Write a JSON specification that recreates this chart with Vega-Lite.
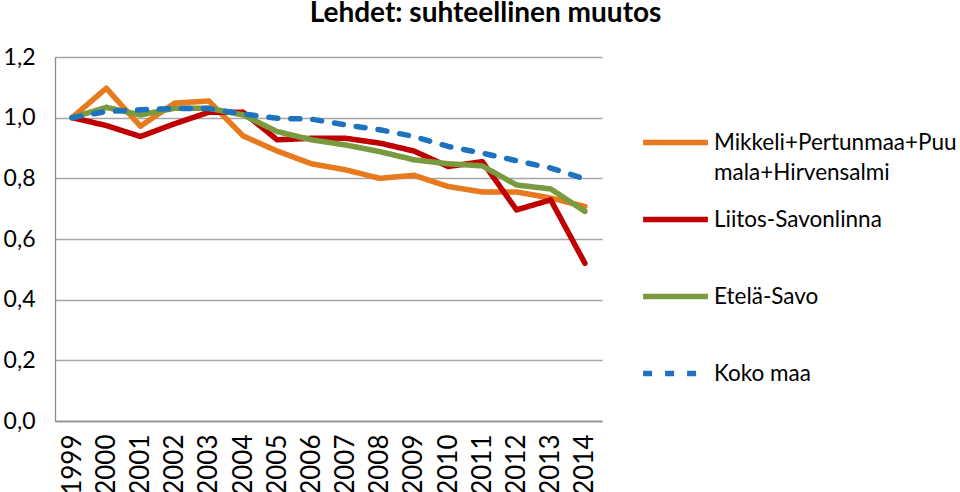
{
  "$schema": "https://vega.github.io/schema/vega-lite/v6.json",
  "width": 547,
  "height": 364,
  "padding": {"left": 3, "top": 0, "right": 0, "bottom": 0},
  "title": {"text": "Lehdet: suhteellinen muutos", "font": "Lato", "fontSize": 28, "fontWeight": "bold", "color": "#000000", "anchor": "middle", "dx": 157, "offset": 18},
  "config": {"view": {"stroke": null}, "font": "Lato", "title": {"fontSize": 28}},
  "data": {"values": [
    {"vuosi": "1999", "sarja": "Mikkeli+Pertunmaa+Puumala+Hirvensalmi", "arvo": 1.0},
    {"vuosi": "2000", "sarja": "Mikkeli+Pertunmaa+Puumala+Hirvensalmi", "arvo": 1.097},
    {"vuosi": "2001", "sarja": "Mikkeli+Pertunmaa+Puumala+Hirvensalmi", "arvo": 0.972},
    {"vuosi": "2002", "sarja": "Mikkeli+Pertunmaa+Puumala+Hirvensalmi", "arvo": 1.048},
    {"vuosi": "2003", "sarja": "Mikkeli+Pertunmaa+Puumala+Hirvensalmi", "arvo": 1.055},
    {"vuosi": "2004", "sarja": "Mikkeli+Pertunmaa+Puumala+Hirvensalmi", "arvo": 0.94},
    {"vuosi": "2005", "sarja": "Mikkeli+Pertunmaa+Puumala+Hirvensalmi", "arvo": 0.89},
    {"vuosi": "2006", "sarja": "Mikkeli+Pertunmaa+Puumala+Hirvensalmi", "arvo": 0.848},
    {"vuosi": "2007", "sarja": "Mikkeli+Pertunmaa+Puumala+Hirvensalmi", "arvo": 0.828},
    {"vuosi": "2008", "sarja": "Mikkeli+Pertunmaa+Puumala+Hirvensalmi", "arvo": 0.80},
    {"vuosi": "2009", "sarja": "Mikkeli+Pertunmaa+Puumala+Hirvensalmi", "arvo": 0.81},
    {"vuosi": "2010", "sarja": "Mikkeli+Pertunmaa+Puumala+Hirvensalmi", "arvo": 0.773},
    {"vuosi": "2011", "sarja": "Mikkeli+Pertunmaa+Puumala+Hirvensalmi", "arvo": 0.755},
    {"vuosi": "2012", "sarja": "Mikkeli+Pertunmaa+Puumala+Hirvensalmi", "arvo": 0.755},
    {"vuosi": "2013", "sarja": "Mikkeli+Pertunmaa+Puumala+Hirvensalmi", "arvo": 0.735},
    {"vuosi": "2014", "sarja": "Mikkeli+Pertunmaa+Puumala+Hirvensalmi", "arvo": 0.707},
    {"vuosi": "1999", "sarja": "Liitos-Savonlinna", "arvo": 1.0},
    {"vuosi": "2000", "sarja": "Liitos-Savonlinna", "arvo": 0.974},
    {"vuosi": "2001", "sarja": "Liitos-Savonlinna", "arvo": 0.938},
    {"vuosi": "2002", "sarja": "Liitos-Savonlinna", "arvo": 0.98},
    {"vuosi": "2003", "sarja": "Liitos-Savonlinna", "arvo": 1.018},
    {"vuosi": "2004", "sarja": "Liitos-Savonlinna", "arvo": 1.018},
    {"vuosi": "2005", "sarja": "Liitos-Savonlinna", "arvo": 0.927},
    {"vuosi": "2006", "sarja": "Liitos-Savonlinna", "arvo": 0.932},
    {"vuosi": "2007", "sarja": "Liitos-Savonlinna", "arvo": 0.932},
    {"vuosi": "2008", "sarja": "Liitos-Savonlinna", "arvo": 0.916},
    {"vuosi": "2009", "sarja": "Liitos-Savonlinna", "arvo": 0.89},
    {"vuosi": "2010", "sarja": "Liitos-Savonlinna", "arvo": 0.839},
    {"vuosi": "2011", "sarja": "Liitos-Savonlinna", "arvo": 0.855},
    {"vuosi": "2012", "sarja": "Liitos-Savonlinna", "arvo": 0.696},
    {"vuosi": "2013", "sarja": "Liitos-Savonlinna", "arvo": 0.729},
    {"vuosi": "2014", "sarja": "Liitos-Savonlinna", "arvo": 0.52},
    {"vuosi": "1999", "sarja": "Etelä-Savo", "arvo": 1.0},
    {"vuosi": "2000", "sarja": "Etelä-Savo", "arvo": 1.034},
    {"vuosi": "2001", "sarja": "Etelä-Savo", "arvo": 1.009},
    {"vuosi": "2002", "sarja": "Etelä-Savo", "arvo": 1.031},
    {"vuosi": "2003", "sarja": "Etelä-Savo", "arvo": 1.031},
    {"vuosi": "2004", "sarja": "Etelä-Savo", "arvo": 1.009},
    {"vuosi": "2005", "sarja": "Etelä-Savo", "arvo": 0.954},
    {"vuosi": "2006", "sarja": "Etelä-Savo", "arvo": 0.927},
    {"vuosi": "2007", "sarja": "Etelä-Savo", "arvo": 0.91},
    {"vuosi": "2008", "sarja": "Etelä-Savo", "arvo": 0.888},
    {"vuosi": "2009", "sarja": "Etelä-Savo", "arvo": 0.861},
    {"vuosi": "2010", "sarja": "Etelä-Savo", "arvo": 0.848},
    {"vuosi": "2011", "sarja": "Etelä-Savo", "arvo": 0.841},
    {"vuosi": "2012", "sarja": "Etelä-Savo", "arvo": 0.778},
    {"vuosi": "2013", "sarja": "Etelä-Savo", "arvo": 0.765},
    {"vuosi": "2014", "sarja": "Etelä-Savo", "arvo": 0.691},
    {"vuosi": "1999", "sarja": "Koko maa", "arvo": 1.0},
    {"vuosi": "2000", "sarja": "Koko maa", "arvo": 1.02},
    {"vuosi": "2001", "sarja": "Koko maa", "arvo": 1.026},
    {"vuosi": "2002", "sarja": "Koko maa", "arvo": 1.03},
    {"vuosi": "2003", "sarja": "Koko maa", "arvo": 1.03},
    {"vuosi": "2004", "sarja": "Koko maa", "arvo": 1.012},
    {"vuosi": "2005", "sarja": "Koko maa", "arvo": 0.998},
    {"vuosi": "2006", "sarja": "Koko maa", "arvo": 0.995},
    {"vuosi": "2007", "sarja": "Koko maa", "arvo": 0.976},
    {"vuosi": "2008", "sarja": "Koko maa", "arvo": 0.96},
    {"vuosi": "2009", "sarja": "Koko maa", "arvo": 0.938},
    {"vuosi": "2010", "sarja": "Koko maa", "arvo": 0.905},
    {"vuosi": "2011", "sarja": "Koko maa", "arvo": 0.883},
    {"vuosi": "2012", "sarja": "Koko maa", "arvo": 0.858},
    {"vuosi": "2013", "sarja": "Koko maa", "arvo": 0.834},
    {"vuosi": "2014", "sarja": "Koko maa", "arvo": 0.798}
  ]},
  "mark": {"type": "line", "strokeWidth": 5.5, "strokeCap": "round", "strokeJoin": "round"},
  "encoding": {
    "x": {
      "field": "vuosi", "type": "ordinal",
      "scale": {"type": "point", "padding": 0.5},
      "axis": {"title": null, "labelAngle": 270, "labelFont": "Lato", "labelFontSize": 26, "labelColor": "#000000", "labelPadding": 13, "ticks": false, "domainColor": "#8c8c8c", "domainWidth": 1.3, "grid": false}
    },
    "y": {
      "field": "arvo", "type": "quantitative",
      "scale": {"domain": [0, 1.2], "nice": false, "zero": true},
      "axis": {"title": null, "values": [0, 0.2, 0.4, 0.6, 0.8, 1.0, 1.2], "labelExpr": "replace(format(datum.value, '.1f'), '.', ',')", "labelFont": "Lato", "labelFontSize": 23, "labelColor": "#000000", "labelPadding": 20, "ticks": false, "domainColor": "#8c8c8c", "domainWidth": 1.3, "grid": true, "gridColor": "#a6a6a6", "gridWidth": 1.3}
    },
    "color": {
      "field": "sarja", "type": "nominal",
      "scale": {"domain": ["Mikkeli+Pertunmaa+Puumala+Hirvensalmi", "Liitos-Savonlinna", "Etelä-Savo", "Koko maa"], "range": ["#E87A1E", "#C00000", "#7A9A40", "#1F72BE"]},
      "legend": {"title": null, "orient": "none", "legendX": 585, "legendY": 50, "symbolType": "stroke", "symbolSize": 4200, "symbolStrokeWidth": 5.5, "labelFont": "Lato", "labelFontSize": 22.5, "labelColor": "#000000", "labelLimit": 400, "labelOffset": 3, "rowPadding": -6, "labelExpr": "datum.label == 'Mikkeli+Pertunmaa+Puumala+Hirvensalmi' ? ['Mikkeli+Pertunmaa+Puu', 'mala+Hirvensalmi'] : [datum.label, ' ']", "encode": {"labels": {"update": {"lineHeight": {"value": 30}}}}}
    },
    "strokeDash": {
      "field": "sarja", "type": "nominal",
      "scale": {"domain": ["Mikkeli+Pertunmaa+Puumala+Hirvensalmi", "Liitos-Savonlinna", "Etelä-Savo", "Koko maa"], "range": [[1, 0], [1, 0], [1, 0], [9, 13]]},
      "legend": {"title": null, "orient": "none", "legendX": 585, "legendY": 50, "symbolType": "stroke", "symbolSize": 4200, "symbolStrokeWidth": 5.5, "labelFont": "Lato", "labelFontSize": 22.5, "labelColor": "#000000", "labelLimit": 400, "labelOffset": 3, "rowPadding": -6, "labelExpr": "datum.label == 'Mikkeli+Pertunmaa+Puumala+Hirvensalmi' ? ['Mikkeli+Pertunmaa+Puu', 'mala+Hirvensalmi'] : [datum.label, ' ']", "encode": {"labels": {"update": {"lineHeight": {"value": 30}}}}}
    }
  }
}
